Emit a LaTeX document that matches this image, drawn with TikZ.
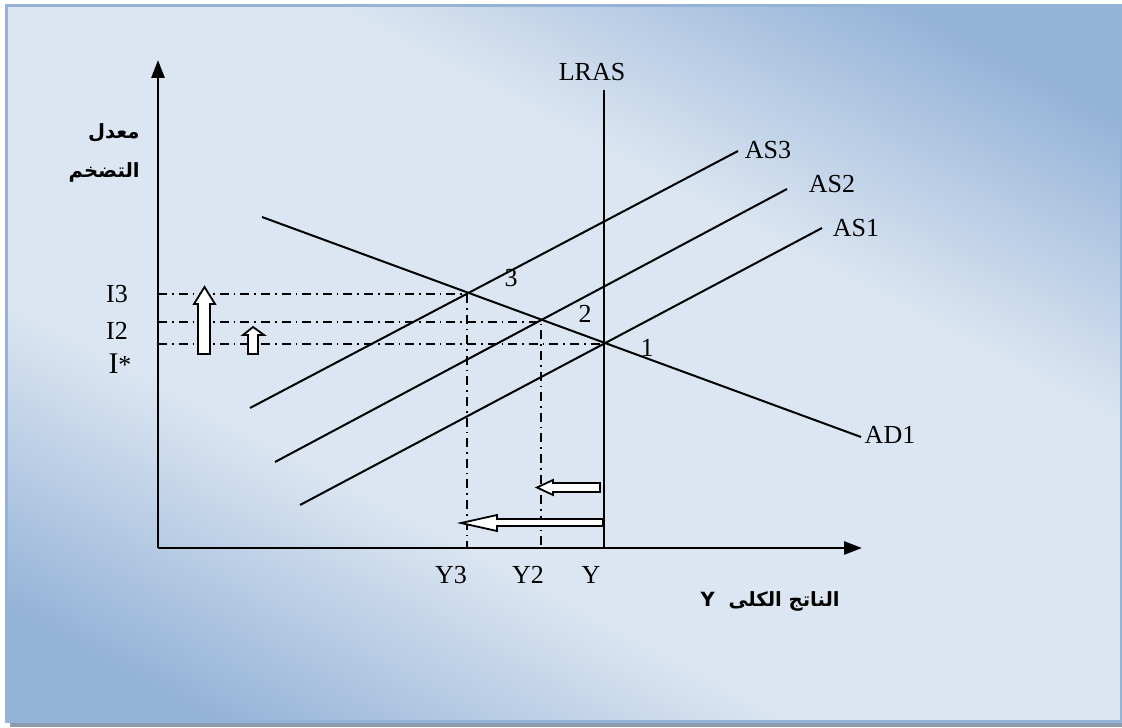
\documentclass[tikz,border=0pt]{standalone}
\usepackage{fontspec}
\setmainfont{Liberation Serif}
\newfontfamily\arabicfont[Script=Arabic]{DejaVu Sans}
\TeXXeTstate=1
\usetikzlibrary{arrows.meta}
\definecolor{bgdark}{HTML}{95B3D7}
\definecolor{bglight}{HTML}{DCE6F2}
\definecolor{bgshadow}{HTML}{8C9BAE}
\pgfdeclarehorizontalshading{bgshade}{100bp}{color(0bp)=(bgdark); color(22bp)=(bgdark); color(38bp)=(bglight); color(62bp)=(bglight); color(78bp)=(bgdark); color(100bp)=(bgdark)}
\tikzset{
  axisline/.style={line width=1.4pt, -{Triangle[length=9pt,width=6.5pt]}},
  curve/.style={line width=1pt},
  guide/.style={line width=0.8pt, dash pattern=on 4.5pt off 2.5pt on 0.8pt off 2.5pt},
  blockarrow/.style={draw, fill=white, line width=0.9pt, line join=miter},
  lbl/.style={font=\fontsize{13}{15}\selectfont, inner sep=0pt},
  arlbl/.style={font=\arabicfont\bfseries\fontsize{9.8}{12}\selectfont, inner sep=0pt}
}
\begin{document}
\begin{tikzpicture}[x=0.5pt,y=-0.5pt]
    \useasboundingbox (0,0) rectangle (1122,727);
    % Draw the frame
    \fill[bgshadow] (10,10) rectangle (1126,727);
    \shade[shading=bgshade, shading angle=62] (6,5.5) rectangle (1121,721.5);
    \draw[bgdark, line width=1.5pt] (6,5.5) rectangle (1121,721.5);
    % Points of equilibrium
    \coordinate (p1) at (604,344);
    \coordinate (p2) at (541,322);
    \coordinate (p3) at (467,294);
    % Draw the axes
    \coordinate (o) at (158,548);
    \coordinate (ytip) at (158,60);
    \coordinate (xtip) at (862,548);
    \draw[axisline] (o) -- (ytip);
    \draw[axisline] (o) -- (xtip);
    % Draw the long run supply
    \coordinate (lrastop) at (604,90);
    \draw[curve] (lrastop) -- (lrastop |- o);
    \node[lbl] (lras) at (592,72) {LRAS};
    % Draw the demand
    \coordinate (ad1s) at (262,217);
    \coordinate (ad1e) at (861,437);
    \draw[curve] (ad1s) -- (ad1e);
    \node[lbl] (ad1) at (890,435) {AD1};
    % Draw the supply curves
    \coordinate (as3s) at (250,408);
    \coordinate (as3e) at (738,151);
    \coordinate (as2s) at (275,462);
    \coordinate (as2e) at (787,189);
    \coordinate (as1s) at (300,505);
    \coordinate (as1e) at (822,228);
    \draw[curve] (as3s) -- (as3e);
    \draw[curve] (as2s) -- (as2e);
    \draw[curve] (as1s) -- (as1e);
    \node[lbl] (as3) at (768,150) {AS3};
    \node[lbl] (as2) at (832,184) {AS2};
    \node[lbl] (as1) at (856,228) {AS1};
    % Draw the guide lines
    \draw[guide] (o |- p3) -- (p3) -- (p3 |- o);
    \draw[guide] (o |- p2) -- (p2) -- (p2 |- o);
    \draw[guide] (o |- p1) -- (p1);
    % Label the points
    \node[lbl] (n3) at (511,278) {3};
    \node[lbl] (n2) at (585,314) {2};
    \node[lbl] (n1) at (647,348) {1};
    % Label the axes
    \node[lbl] (i3) at (117,294) {I3};
    \node[lbl] (i2) at (117,331) {I2};
    \node[lbl] (istar) at (120,364) {{\fontsize{15}{15}\selectfont I}*};
    \node[lbl] (y3) at (451,575) {Y3};
    \node[lbl] (y2) at (528,575) {Y2};
    \node[lbl] (y) at (591,575) {Y};
    \node[arlbl, anchor=east] (rate1) at (140,133) {\beginR معدل\endR};
    \node[arlbl, anchor=east] (rate2) at (140,172) {\beginR التضخم\endR};
    \node[arlbl, anchor=east] (output) at (840,601) {\beginR الناتج الكلى\ \ Y\endR};
    % Draw the block arrows
    \draw[blockarrow] (198,354) -- (198,304) -- (194,304) -- (204.5,287) -- (215,304) -- (210,304) -- (210,354) -- cycle;
    \draw[blockarrow] (248,354) -- (248,335) -- (243,335) -- (253,327) -- (264,335) -- (258,335) -- (258,354) -- cycle;
    \draw[blockarrow] (600,483) -- (553,483) -- (553,480) -- (537,487.5) -- (553,495) -- (553,492) -- (600,492) -- cycle;
    \draw[blockarrow] (603,519) -- (497,519) -- (497,515) -- (461,523) -- (497,531) -- (497,526) -- (603,526) -- cycle;
\end{tikzpicture}
\end{document}
